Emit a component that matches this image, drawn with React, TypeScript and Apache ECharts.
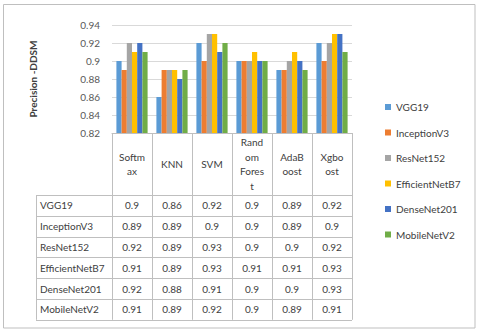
import React, { useEffect, useRef } from "react";
import * as echarts from "echarts";

const categories = ["Softmax", "KNN", "SVM", "Random Forest", "AdaBoost", "Xgboost"];
const headerLabels = ["Softm\nax", "KNN", "SVM", "Rand\nom\nFores\nt", "AdaB\noost", "Xgbo\nost"];
const seriesNames = ["VGG19", "InceptionV3", "ResNet152", "EfficientNetB7", "DenseNet201", "MobileNetV2"];
const vgg19 = [0.9, 0.86, 0.92, 0.9, 0.89, 0.92];
const inceptionV3 = [0.89, 0.89, 0.9, 0.9, 0.89, 0.9];
const resNet152 = [0.92, 0.89, 0.93, 0.9, 0.9, 0.92];
const efficientNetB7 = [0.91, 0.89, 0.93, 0.91, 0.91, 0.93];
const denseNet201 = [0.92, 0.88, 0.91, 0.9, 0.9, 0.93];
const mobileNetV2 = [0.91, 0.89, 0.92, 0.9, 0.89, 0.91];
const seriesValues = [vgg19, inceptionV3, resNet152, efficientNetB7, denseNet201, mobileNetV2];
const colors = ["#5B9BD5", "#ED7D31", "#A5A5A5", "#FFC000", "#4472C4", "#70AD47"];

const FONT = "Lato";
const GRID_LEFT = 112;
const GRID_RIGHT_X = 352;
const GRID_TOP = 25;
const AXIS_Y = 133;
const TABLE_TOP = 195;
const ROW_H = 20.8;
const LABEL_COL_X = 36;
const LINE_COLOR = "#BFBFBF";

export default function App() {
  const ref = useRef<HTMLDivElement>(null);
  useEffect(() => {
    if (!ref.current) return;
    const chart = echarts.init(ref.current, null, { renderer: "svg" });
    const bandW = (GRID_RIGHT_X - GRID_LEFT) / categories.length;
    const tableBottom = TABLE_TOP + ROW_H * seriesNames.length;

    const graphics: any[] = [];
    graphics.push({
      type: "rect",
      shape: { x: 3.5, y: 4.5, width: 471.5, height: 323.5 },
      style: { fill: "none", stroke: LINE_COLOR, lineWidth: 1 },
      silent: true,
    });
    for (let k = 0; k <= seriesNames.length; k++) {
      const y = Math.round(TABLE_TOP + ROW_H * k) + 0.5;
      graphics.push({
        type: "line",
        shape: { x1: LABEL_COL_X, y1: y, x2: GRID_RIGHT_X, y2: y },
        style: { stroke: LINE_COLOR, lineWidth: 1 },
        silent: true,
      });
    }
    graphics.push({
      type: "line",
      shape: { x1: LABEL_COL_X + 0.5, y1: TABLE_TOP, x2: LABEL_COL_X + 0.5, y2: tableBottom },
      style: { stroke: LINE_COLOR, lineWidth: 1 },
      silent: true,
    });
    seriesNames.forEach((name, i) => {
      const cy = TABLE_TOP + ROW_H * (i + 0.5);
      graphics.push({
        type: "text",
        x: LABEL_COL_X + 4,
        y: cy,
        style: { text: name, fontFamily: FONT, fontSize: 10, fill: "#404040", verticalAlign: "middle", align: "left" },
        silent: true,
      });
      seriesValues[i].forEach((v, j) => {
        graphics.push({
          type: "text",
          x: GRID_LEFT + bandW * (j + 0.5),
          y: cy,
          style: { text: String(v), fontFamily: FONT, fontSize: 10, fill: "#404040", verticalAlign: "middle", align: "center" },
          silent: true,
        });
      });
    });

    chart.setOption({
      animation: false,
      textStyle: { fontFamily: FONT },
      grid: { left: GRID_LEFT, right: 480 - GRID_RIGHT_X, top: GRID_TOP, bottom: 336 - AXIS_Y, containLabel: false },
      legend: {
        orient: "vertical",
        left: 380,
        top: 96,
        itemWidth: 6,
        itemHeight: 6,
        itemGap: 13.5,
        icon: "rect",
        data: seriesNames,
        textStyle: { fontFamily: FONT, fontSize: 10, color: "#404040", lineHeight: 12 },
      },
      xAxis: {
        type: "category",
        data: categories,
        axisLine: { show: true, lineStyle: { color: LINE_COLOR } },
        axisTick: { show: true, length: tableBottom - AXIS_Y, lineStyle: { color: LINE_COLOR } },
        axisLabel: {
          formatter: (_v: string, idx: number) => headerLabels[idx],
          fontFamily: FONT,
          fontSize: 10,
          color: "#404040",
          lineHeight: 14.5,
          margin: (TABLE_TOP - AXIS_Y) / 2,
          verticalAlign: "middle",
          interval: 0,
        },
      },
      yAxis: {
        type: "value",
        min: 0.82,
        max: 0.94,
        interval: 0.02,
        name: "Precision -DDSM",
        nameLocation: "middle",
        nameGap: 74,
        nameTextStyle: { fontFamily: FONT, fontSize: 10, fontWeight: "bold", color: "#404040" },
        axisLine: { show: false },
        axisTick: { show: false },
        splitLine: { lineStyle: { color: "#D9D9D9" } },
        axisLabel: {
          fontFamily: FONT,
          fontSize: 10,
          color: "#595959",
          margin: 12,
          formatter: (v: number) => String(Math.round(v * 100) / 100),
        },
      },
      series: seriesNames.map((name, i) => ({
        name,
        type: "bar",
        data: seriesValues[i],
        itemStyle: { color: colors[i] },
        barGap: "0%",
        barCategoryGap: "22%",
      })),
      graphic: graphics,
    });
    return () => chart.dispose();
  }, []);
  return <div ref={ref} style={{ position: "fixed", left: 0, top: 0, width: 480, height: 336, background: "#fff" }} />;
}
